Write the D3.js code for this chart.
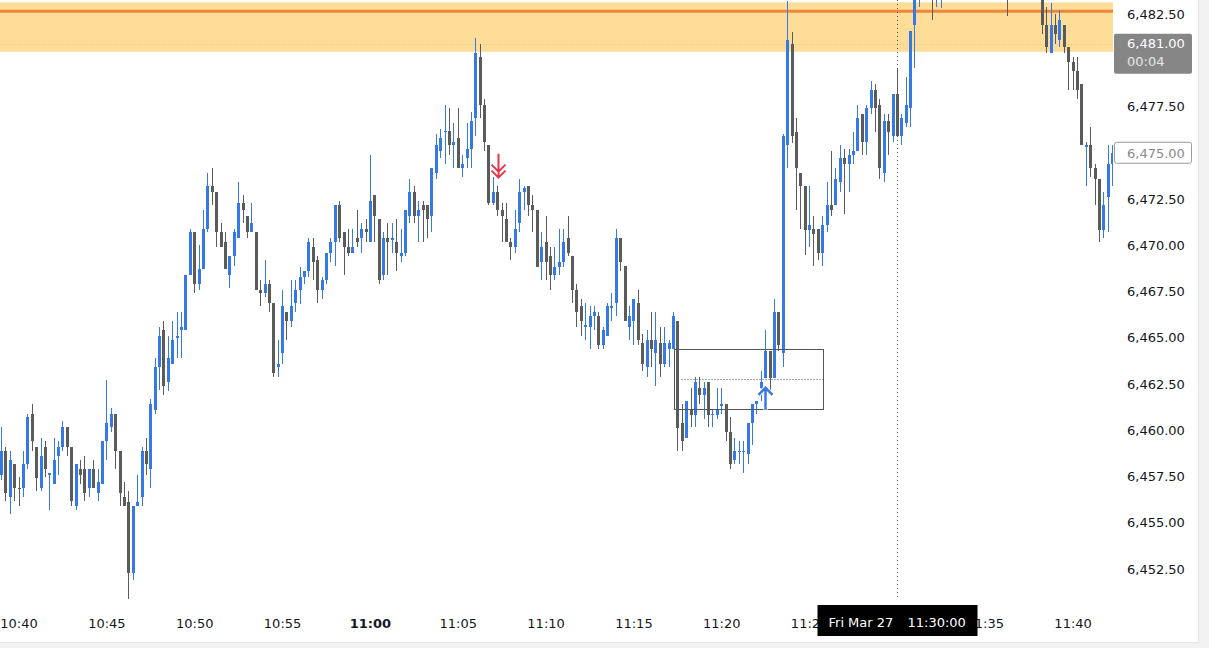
<!DOCTYPE html>
<html><head><meta charset="utf-8">
<script src="https://cdn.jsdelivr.net/npm/d3@7"></script>
<style>
html,body{margin:0;padding:0;background:#f2f2f2;}
svg{display:block;}
text{font-family:"DejaVu Sans",Arial,sans-serif;}
</style></head><body>
<svg id="c" width="1209" height="648"></svg>
<script>
// ---------- data ----------
const startTime = "2026-03-27T10:39:00";
const candleSeconds = 15;
// [open, high, low, close]
const candles = [
[6457.6,6460.2,6457.3,6458.9],[6458.9,6459.1,6456.2,6456.6],[6456.4,6458.9,6455.5,6458.4],[6458.2,6458.2,6456.2,6456.9],
[6456.9,6457.5,6455.9,6456.8],[6456.9,6458.9,6456.4,6458.2],[6458.2,6460.9,6457.9,6460.7],[6460.9,6461.4,6458.9,6459.4],
[6459.1,6459.1,6456.7,6457.4],[6456.9,6459.6,6456.7,6458.6],[6459.1,6459.4,6457.5,6457.9],[6457.6,6457.7,6455.7,6457.7],
[6457.1,6459.6,6457.1,6458.4],[6458.6,6459.4,6457.6,6459.1],[6459.1,6460.5,6458.9,6460.2],[6460.2,6460.2,6458.6,6459.1],
[6459.1,6459.1,6455.9,6456.2],[6455.9,6458.2,6455.7,6458.2],[6457.9,6458.4,6457.1,6457.6],[6457.9,6458.6,6456.2,6456.6],
[6456.9,6457.9,6456.4,6457.9],[6457.9,6458.4,6456.9,6456.9],[6456.6,6457.9,6456.2,6457.2],[6457.1,6459.4,6457.1,6459.4],
[6459.4,6462.7,6458.4,6460.4],[6460.2,6461.2,6459.9,6460.9],[6460.9,6460.9,6457.9,6458.9],[6458.9,6458.9,6455.9,6456.6],
[6456.4,6457.2,6455.9,6455.9],[6456.1,6456.7,6450.9,6452.3],[6452.3,6455.9,6451.9,6455.9],[6455.9,6457.6,6455.9,6456.1],
[6456.4,6459.1,6455.9,6458.9],[6458.9,6459.6,6457.6,6458.2],[6457.9,6461.7,6456.9,6461.4],[6461.1,6463.9,6460.9,6463.4],
[6463.4,6465.6,6462.2,6465.1],[6465.4,6465.9,6461.9,6462.4],[6462.6,6465.1,6462.1,6463.9],[6463.6,6465.9,6463.6,6464.9],
[6465.0,6466.4,6463.9,6465.1],[6465.4,6466.4,6463.9,6465.6],[6465.4,6468.4,6465.4,6468.4],[6468.4,6470.9,6468.4,6470.7],
[6470.7,6470.7,6467.4,6467.9],[6467.9,6470.0,6467.6,6468.7],[6468.7,6471.9,6468.7,6470.9],[6470.9,6473.9,6470.7,6473.2],
[6473.2,6474.2,6472.2,6472.9],[6472.9,6472.9,6469.9,6470.7],[6470.7,6471.2,6469.9,6469.9],[6470.2,6470.7,6468.7,6468.7],
[6468.4,6469.4,6467.7,6469.4],[6469.4,6470.9,6468.9,6470.7],[6470.4,6473.4,6470.4,6472.3],[6472.3,6472.7,6471.2,6471.9],
[6471.6,6471.6,6470.4,6470.7],[6470.7,6472.3,6470.7,6471.2],[6470.7,6470.7,6467.6,6467.6],[6467.6,6468.1,6466.7,6467.4],
[6467.4,6469.2,6467.2,6467.9],[6467.9,6468.1,6466.4,6466.9],[6466.9,6466.9,6462.9,6463.1],[6463.4,6464.9,6462.9,6463.6],
[6464.2,6467.6,6463.6,6466.7],[6466.4,6466.4,6464.9,6465.9],[6465.9,6468.1,6465.6,6466.7],[6466.9,6468.1,6466.4,6467.6],
[6467.6,6468.8,6466.8,6468.3],[6468.3,6468.6,6467.9,6468.6],[6468.6,6470.4,6468.3,6470.2],[6469.9,6470.4,6468.1,6469.1],
[6469.2,6469.4,6466.9,6467.6],[6467.6,6468.3,6467.1,6468.1],[6468.1,6469.6,6467.9,6469.6],[6469.6,6470.4,6469.1,6470.2],
[6470.2,6472.2,6468.9,6472.2],[6472.2,6472.4,6470.2,6470.4],[6470.7,6470.7,6468.4,6469.9],[6469.9,6470.9,6469.4,6469.6],
[6469.6,6470.9,6469.6,6469.9],[6470.4,6471.9,6469.9,6470.2],[6470.4,6471.2,6469.6,6470.9],[6470.9,6471.4,6470.2,6470.7],
[6470.2,6474.9,6470.2,6472.4],[6472.7,6472.7,6470.2,6471.6],[6471.4,6471.4,6467.9,6468.1],[6468.4,6470.7,6468.1,6470.4],
[6470.4,6471.2,6468.4,6470.2],[6470.3,6471.2,6469.6,6470.4],[6470.2,6471.4,6468.6,6469.6],[6469.4,6470.9,6469.1,6469.6],
[6469.6,6471.9,6469.4,6471.9],[6471.6,6473.6,6471.2,6472.9],[6472.9,6473.2,6471.2,6471.6],[6471.6,6472.4,6470.2,6471.9],
[6472.2,6472.4,6470.2,6471.9],[6472.2,6472.2,6470.4,6471.4],[6471.6,6474.2,6470.7,6474.2],[6473.9,6476.0,6473.6,6475.4],
[6475.1,6476.3,6474.7,6475.8],[6476.1,6477.6,6474.4,6476.2],[6476.2,6477.4,6474.9,6475.4],[6475.4,6476.6,6474.2,6475.6],
[6475.8,6477.4,6474.2,6474.2],[6474.2,6474.9,6473.7,6474.4],[6474.7,6476.6,6474.2,6475.2],[6475.2,6477.2,6474.2,6476.7],
[6476.9,6481.2,6475.9,6480.4],[6480.2,6480.9,6476.9,6477.6],[6477.6,6477.9,6475.1,6475.6],[6475.4,6475.4,6472.2,6472.3],
[6472.3,6473.7,6472.2,6472.9],[6472.9,6473.2,6471.6,6471.9],[6471.9,6472.3,6470.2,6471.6],[6471.4,6472.3,6470.2,6470.2],
[6470.2,6470.4,6469.2,6469.9],[6469.9,6471.9,6469.6,6470.9],[6471.2,6473.6,6470.7,6472.9],[6472.9,6473.2,6471.9,6473.1],
[6473.2,6473.2,6471.6,6472.2],[6472.2,6472.7,6470.7,6471.9],[6471.9,6471.9,6468.8,6468.8],[6469.1,6470.7,6468.1,6469.9],
[6470.2,6471.6,6468.1,6469.1],[6469.4,6469.9,6467.6,6468.4],[6468.4,6469.9,6468.1,6468.8],[6468.8,6470.9,6468.4,6469.1],
[6469.1,6470.9,6468.8,6470.2],[6470.4,6471.6,6469.4,6469.6],[6469.4,6469.4,6466.9,6467.6],[6467.6,6467.9,6465.6,6466.4],
[6466.7,6467.1,6465.1,6465.9],[6465.6,6466.9,6464.9,6465.7],[6465.6,6466.7,6464.4,6466.2],[6466.2,6466.7,6465.4,6466.4],
[6466.2,6466.4,6464.4,6464.6],[6464.6,6465.6,6464.4,6465.4],[6465.1,6466.9,6465.1,6466.7],[6466.6,6467.4,6465.9,6466.7],
[6466.9,6470.9,6466.2,6470.4],[6470.4,6470.4,6468.6,6469.1],[6468.9,6468.9,6465.9,6465.9],[6465.6,6466.7,6464.9,6466.2],
[6465.9,6467.1,6464.6,6467.1],[6466.9,6467.6,6464.6,6464.9],[6464.7,6465.2,6463.2,6463.6],[6463.4,6465.4,6462.9,6464.9],
[6464.9,6466.4,6463.4,6464.4],[6464.2,6466.4,6462.4,6464.9],[6464.7,6465.6,6462.9,6463.6],[6463.6,6465.6,6463.4,6464.7],
[6464.4,6464.9,6463.4,6464.7],[6464.4,6466.4,6464.4,6466.2],[6465.9,6465.9,6458.9,6460.1],[6460.4,6461.4,6458.9,6459.4],
[6459.6,6461.6,6459.6,6461.6],[6461.1,6462.3,6460.2,6460.8],[6460.8,6462.9,6460.2,6462.6],[6462.3,6462.9,6461.4,6461.9],
[6461.9,6462.6,6460.6,6462.3],[6462.6,6462.6,6460.2,6460.8],[6460.9,6461.1,6460.2,6460.9],[6460.8,6462.3,6460.6,6461.1],
[6461.3,6462.3,6460.9,6461.4],[6461.4,6461.4,6459.4,6459.9],[6459.9,6460.7,6457.9,6458.2],[6458.4,6459.6,6458.2,6458.9],
[6458.8,6459.4,6458.2,6458.9],[6458.8,6459.4,6457.7,6458.9],[6458.7,6460.4,6458.2,6460.4],[6460.4,6461.4,6459.2,6461.4],
[6461.4,6461.6,6460.9,6461.6],[6462.3,6463.2,6461.6,6462.6],[6462.8,6465.4,6462.8,6464.3],[6464.3,6464.3,6462.2,6462.8],
[6462.8,6467.1,6462.8,6466.4],[6466.4,6466.4,6464.3,6464.6],[6464.2,6476.0,6463.4,6475.9],[6475.4,6483.2,6474.2,6481.1],
[6480.9,6481.5,6475.5,6475.9],[6476.1,6476.9,6471.9,6474.2],[6473.9,6473.9,6470.9,6473.2],[6473.2,6473.2,6469.5,6470.8],
[6470.8,6473.2,6469.9,6471.1],[6470.9,6471.6,6468.9,6470.6],[6470.9,6470.9,6469.2,6469.6],[6469.6,6471.6,6468.9,6471.1],
[6471.1,6473.4,6470.7,6472.2],[6472.2,6475.1,6471.6,6471.9],[6472.2,6474.2,6472.2,6473.6],[6473.4,6475.4,6472.9,6474.7],
[6474.7,6475.2,6471.7,6474.4],[6474.4,6475.2,6472.9,6474.9],[6474.9,6476.1,6474.4,6475.1],[6475.1,6477.6,6475.1,6476.9],
[6477.1,6477.1,6474.9,6475.6],[6475.6,6477.6,6474.9,6477.4],[6477.4,6478.9,6477.1,6478.4],[6478.4,6478.7,6476.1,6477.4],
[6477.6,6477.9,6473.6,6474.2],[6473.9,6477.1,6473.4,6476.7],[6476.7,6477.1,6474.9,6476.1],[6475.9,6478.2,6475.6,6478.2],
[6478.2,6479.5,6475.9,6475.9],[6475.9,6477.1,6475.4,6476.9],[6476.6,6479.1,6476.4,6477.6],[6477.4,6481.6,6476.4,6481.6],
[6481.9,6484.2,6479.6,6483.6],[6483.6,6485.0,6482.9,6484.4],[6484.4,6485.5,6483.8,6485.1],[6485.1,6485.9,6483.9,6484.6],
[6484.6,6485.0,6482.2,6483.9],[6483.9,6485.2,6482.9,6484.8],[6484.8,6485.6,6482.8,6485.3],[6485.3,6486.4,6484.6,6486.0],
[6486.0,6486.9,6485.4,6486.5],[6486.5,6487.1,6485.6,6485.9],[6485.9,6486.8,6485.1,6486.4],[6486.4,6487.6,6486.0,6487.2],
[6487.2,6487.9,6486.1,6486.6],[6486.6,6487.0,6485.4,6485.8],[6485.8,6486.5,6484.9,6485.2],[6485.2,6486.2,6484.6,6485.9],
[6485.9,6486.7,6485.3,6486.3],[6486.3,6486.9,6485.1,6485.5],[6485.5,6486.0,6484.4,6484.8],[6484.8,6485.6,6484.0,6485.1],
[6485.1,6485.8,6483.9,6484.3],[6484.3,6484.8,6482.4,6483.8],[6483.8,6485.2,6483.5,6484.9],[6484.9,6485.7,6484.2,6485.4],
[6485.4,6486.3,6484.8,6485.9],[6485.9,6486.4,6485.0,6485.3],[6485.3,6485.9,6484.4,6484.7],[6484.7,6485.4,6483.8,6484.9],
[6484.9,6485.3,6483.6,6484.0],[6483.5,6484.0,6481.4,6481.9],[6481.9,6482.9,6480.4,6480.7],[6480.4,6483.1,6480.4,6481.9],
[6481.9,6482.5,6480.9,6481.4],[6481.1,6482.7,6480.7,6482.2],[6481.9,6481.9,6480.4,6480.7],[6480.7,6480.7,6478.4,6479.9],
[6479.9,6480.2,6478.4,6479.4],[6479.4,6480.2,6477.9,6478.4],[6478.7,6478.7,6475.4,6475.4],[6475.3,6475.6,6473.2,6475.4],
[6475.4,6476.4,6473.7,6474.2],[6474.2,6474.4,6472.2,6473.6],[6473.6,6473.6,6470.2,6470.8],[6470.8,6472.9,6470.4,6472.2],
[6472.6,6475.4,6470.7,6474.4],[6474.4,6475.4,6473.2,6475.0]
];
const priceTicks = [6452.5,6455,6457.5,6460,6462.5,6465,6467.5,6470,6472.5,6475,6477.5,6480,6482.5];
const timeDomain = ["2026-03-27T10:39:00","2026-03-27T11:40:00"];
const zoneTop = 6483.15, zoneBottom = 6480.45, zoneLine = 6482.65, zoneMid = 6480.9;
const boxTimes = ["2026-03-27T11:17:18","2026-03-27T11:25:48"];
const boxPrices = [6464.4, 6461.15], boxMid = 6462.77;
const sellSignal = {time:"2026-03-27T11:07:18", price:6473.6};
const buySignal = {time:"2026-03-27T11:22:30", price:6462.35};
const crosshairTime = "2026-03-27T11:30:00";
const crosshairLabel = ["Fri Mar 27", "11:30:00"];
const lastLabel = {price:6481.0, countdown:"00:04"};
const markLabel = 6475.0;

// ---------- layout ----------
const paneW = 1113, paneH = 600;
const UP = "#3479e4", DOWN = "#5b5b5b";
const svg = d3.select("#c");
const parse = d3.isoParse;
const fmt = d3.format(",.2f");

svg.append("rect").attr("x",0).attr("y",0).attr("width",1198).attr("height",642).attr("fill","#fff");
svg.append("line").attr("x1",1198.5).attr("x2",1198.5).attr("y1",0).attr("y2",642).attr("stroke","#e6e6e6");
svg.append("line").attr("x1",0).attr("x2",1199).attr("y1",642.5).attr("y2",642.5).attr("stroke","#e6e6e6");

const x = d3.scaleTime().domain(timeDomain.map(parse)).range([1, 1072.6]);
const y = d3.scaleLinear().domain([6452.5, 6482.5]).range([569, 14]);

const t0 = parse(startTime).getTime();
const data = candles.map((d,i)=>({t:new Date(t0 + i*candleSeconds*1000), o:d[0], h:d[1], l:d[2], c:d[3]}));

svg.append("defs").append("clipPath").attr("id","pane")
  .append("rect").attr("x",0).attr("y",0).attr("width",paneW).attr("height",paneH);
const pane = svg.append("g").attr("clip-path","url(#pane)");

// zone
pane.append("rect").attr("x",0).attr("width",paneW)
  .attr("y",y(zoneTop)).attr("height",y(zoneBottom)-y(zoneTop)).attr("fill","#fddd97");
pane.append("line").attr("x1",0).attr("x2",paneW).attr("y1",y(zoneTop)+0.5).attr("y2",y(zoneTop)+0.5)
  .attr("stroke","#fbe9c4").attr("stroke-width",1);
pane.append("line").attr("x1",0).attr("x2",paneW).attr("y1",y(zoneBottom)-0.5).attr("y2",y(zoneBottom)-0.5)
  .attr("stroke","#fbe6b8").attr("stroke-width",1);
pane.append("line").attr("x1",0).attr("x2",paneW).attr("y1",y(zoneLine)).attr("y2",y(zoneLine))
  .attr("stroke","#ef873a").attr("stroke-width",3);
pane.append("line").attr("x1",0).attr("x2",paneW).attr("y1",Math.round(y(zoneMid))+0.5).attr("y2",Math.round(y(zoneMid))+0.5)
  .attr("stroke","#f3c47a").attr("stroke-width",1).attr("stroke-dasharray","1,2");

// candles
const cg = pane.append("g");
data.forEach(d=>{
  const cx = Math.round(x(d.t));
  const col = d.c >= d.o ? UP : DOWN;
  cg.append("line").attr("x1",cx+0.5).attr("x2",cx+0.5)
    .attr("y1",Math.round(y(d.h))).attr("y2",Math.round(y(d.l))).attr("stroke",col).attr("stroke-width",1);
  const yt = Math.round(y(Math.max(d.o,d.c))), yb = Math.round(y(Math.min(d.o,d.c)));
  cg.append("rect").attr("x",cx-1).attr("width",3).attr("y",yt).attr("height",Math.max(1,yb-yt)).attr("fill",col);
});

// box
const bx0 = Math.round(x(parse(boxTimes[0])))+0.5, bx1 = Math.round(x(parse(boxTimes[1])))+0.5;
const by0 = Math.round(y(boxPrices[0]))+0.5, by1 = Math.round(y(boxPrices[1]))+0.5;
pane.append("rect").attr("x",bx0).attr("y",by0).attr("width",bx1-bx0).attr("height",by1-by0)
  .attr("fill","none").attr("stroke","#555").attr("stroke-width",1);
pane.append("line").attr("x1",bx0+7).attr("x2",bx1).attr("y1",Math.round(y(boxMid))+0.5).attr("y2",Math.round(y(boxMid))+0.5)
  .attr("stroke","#555").attr("stroke-dasharray","1,2");

// signals
function drawPath(p, color, w){
  pane.append("path").attr("d",p).attr("fill","none").attr("stroke","#fff").attr("stroke-width",w+2).attr("stroke-linejoin","round");
  pane.append("path").attr("d",p).attr("fill","none").attr("stroke",color).attr("stroke-width",w).attr("stroke-linejoin","miter");
}
{
  const ax = Math.round(x(parse(sellSignal.time)))+0.5, ay = y(sellSignal.price);
  drawPath(`M${ax},${ay-25} V${ay-1} M${ax-7},${ay-14} L${ax},${ay-7} L${ax+7},${ay-14} M${ax-7},${ay-8} L${ax},${ay-1} L${ax+7},${ay-8}`, "#e8354b", 2);
}
{
  const ax = Math.round(x(parse(buySignal.time)))+0.5, ay = y(buySignal.price);
  drawPath(`M${ax},${ay+23} V${ay+1} M${ax-7},${ay+8} L${ax},${ay+1} L${ax+7},${ay+8}`, "#3a78e8", 2.5);
}

// crosshair
const chx = Math.round(x(parse(crosshairTime)))+0.5;
svg.append("line").attr("x1",chx).attr("x2",chx).attr("y1",0).attr("y2",paneH)
  .attr("stroke","#555").attr("stroke-width",1).attr("stroke-dasharray","1,3");

// price axis (ticks hidden under the price labels are skipped)
const ly = y(lastLabel.price), my = y(markLabel);
const visibleTicks = priceTicks.filter(p => {
  const yy = y(p);
  return !(yy > ly-10 && yy < ly+34) && Math.abs(yy-my) > 11;
});
const yAxis = d3.axisRight(y).tickValues(visibleTicks).tickFormat(fmt).tickSize(0).tickPadding(0);
const ya = svg.append("g").attr("transform","translate(1127,0)").call(yAxis);
ya.select(".domain").remove();
ya.selectAll("text").attr("font-size",13).attr("fill","#131722").attr("font-family","DejaVu Sans");

// time axis (tick under the crosshair label is skipped)
const xAxis = d3.axisBottom(x).ticks(d3.timeMinute.every(5)).tickFormat(d3.timeFormat("%H:%M")).tickSize(0).tickPadding(0);
const xa = svg.append("g").attr("transform",`translate(0,${paneH})`).call(xAxis);
xa.select(".domain").remove();
xa.selectAll(".tick").filter(d => Math.abs(x(d)-chx) < 40).remove();
xa.selectAll("text").attr("dy",null).attr("y",28).attr("font-size",13).attr("fill","#131722").attr("font-family","DejaVu Sans")
  .attr("font-weight",d=>d.getMinutes()===0?"bold":"normal");

// last price label
svg.append("rect").attr("x",1114).attr("y",ly-8).attr("width",78).attr("height",40).attr("rx",2).attr("fill","#868686");
svg.append("text").attr("x",1127).attr("y",ly+6).attr("font-size",13).attr("fill","#fff").text(fmt(lastLabel.price));
svg.append("text").attr("x",1127).attr("y",ly+24).attr("font-size",13).attr("fill","#e6e6e6").text(lastLabel.countdown);

// marker label
svg.append("rect").attr("x",1114.5).attr("y",my-10.5).attr("width",77).attr("height",21).attr("rx",2)
  .attr("fill","#fff").attr("stroke","#9a9a9a");
svg.append("text").attr("x",1127).attr("y",my+5).attr("font-size",13).attr("fill","#8a8a8a").text(fmt(markLabel));

// crosshair time label
svg.append("rect").attr("x",chx-80).attr("y",605).attr("width",160).attr("height",31).attr("fill","#000");
svg.append("text").attr("x",chx-69).attr("y",627).attr("font-size",13).attr("fill","#fff").text(crosshairLabel[0]);
svg.append("text").attr("x",chx+10).attr("y",627).attr("font-size",13).attr("fill","#fff").text(crosshairLabel[1]);
</script>
</body></html>
